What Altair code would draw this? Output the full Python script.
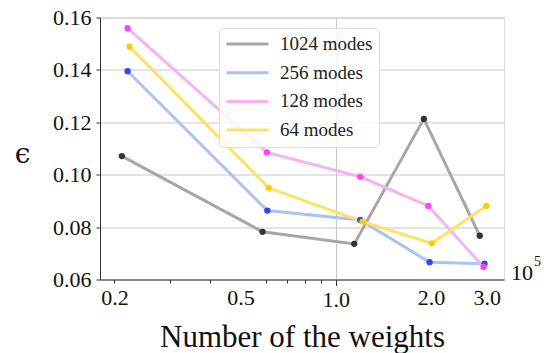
import altair as alt
import pandas as pd

# Error versus number of weights (in units of 1e5) for four mode counts
series = ["1024 modes", "256 modes", "128 modes", "64 modes"]

weights_1024 = [0.211, 0.587, 1.144, 1.898, 2.85]
error_1024 = [0.1071, 0.0782, 0.0736, 0.1213, 0.0767]

weights_256 = [0.220, 0.608, 1.195, 1.979, 2.95]
error_256 = [0.1395, 0.0863, 0.0827, 0.0666, 0.0660]

weights_128 = [0.220, 0.606, 1.195, 1.960, 2.93]
error_128 = [0.1559, 0.1085, 0.0992, 0.0881, 0.0648]

weights_64 = [0.223, 0.614, 1.215, 2.010, 2.99]
error_64 = [0.1489, 0.0950, 0.0821, 0.0738, 0.0881]

x_labels = [0.2, 0.5, 1.0, 2.0, 3.0]
x_ticks = [0.2, 0.3, 0.4, 0.5, 0.6, 0.7, 0.8, 0.9, 1.0, 2.0, 3.0]
y_ticks = [0.06, 0.08, 0.10, 0.12, 0.14, 0.16]

line_colors = ["#a6a6a6", "#a9c3f2", "#f5b2f5", "#ffe066"]
point_colors = ["#333333", "#3344ff", "#ff40ff", "#ffcc00"]

rows = []
for name, ws, es in zip(
    series,
    [weights_1024, weights_256, weights_128, weights_64],
    [error_1024, error_256, error_128, error_64],
):
    for w, e in zip(ws, es):
        rows.append({"series": name, "weights": w, "error": e})
df = pd.DataFrame(rows)

serif = "Liberation Serif"

label_list = "[" + ",".join(str(v) for v in x_labels) + "]"
x_axis = alt.Axis(
    values=x_ticks,
    labelExpr=f"indexof({label_list}, datum.value) >= 0 ? format(datum.value, '.1f') : ''",
    labelOverlap=False,
    labelFont=serif,
    labelFontSize=22,
    labelColor="#111111",
    labelPadding=4,
    tickColor="#333333",
    tickSize={"condition": {"test": "datum.value == 1", "value": 6}, "value": 3.5},
    tickOpacity={
        "condition": {"test": "datum.value == 0.5 || datum.value >= 2", "value": 0},
        "value": 1,
    },
    grid=True,
    gridColor="#c8c8c8",
    gridOpacity={"condition": {"test": "datum.value == 1", "value": 1}, "value": 0},
    domainColor="#333333",
    title="Number of the weights",
    titleFont=serif,
    titleFontSize=31,
    titleFontWeight="normal",
    titleColor="#111111",
    titleBaseline="alphabetic",
    titleY=67,
)

y_axis = alt.Axis(
    values=y_ticks,
    format=".2f",
    labelFont=serif,
    labelFontSize=22,
    labelColor="#111111",
    labelPadding=5,
    tickSize=4,
    tickColor="#333333",
    grid=True,
    gridColor="#c8c8c8",
    domainColor="#333333",
    title="ϵ",
    titleAngle=0,
    titleFont="DejaVu Serif",
    titleFontSize=28,
    titleFontWeight="normal",
    titleColor="#111111",
    titleAlign="center",
    titleBaseline="alphabetic",
    titleX=-78,
    titleY=145,
)

x_enc = alt.X(
    "weights:Q",
    scale=alt.Scale(type="log", domain=[0.18, 3.4], nice=False, zero=False),
    axis=x_axis,
)
y_enc = alt.Y(
    "error:Q",
    scale=alt.Scale(domain=[0.06, 0.16], nice=False, zero=False),
    axis=y_axis,
)

base = alt.Chart(df)

lines = base.mark_line(strokeWidth=3).encode(
    x=x_enc,
    y=y_enc,
    color=alt.Color(
        "series:N",
        scale=alt.Scale(domain=series, range=line_colors),
        sort=series,
        legend=alt.Legend(
            orient="none",
            legendX=119,
            legendY=10.5,
            title=None,
            symbolType="stroke",
            symbolSize=1764,
            symbolStrokeWidth=3,
            clipHeight=20,
            rowPadding=8.7,
            labelOffset=10,
            labelFont=serif,
            labelFontSize=19,
            labelFontWeight="normal",
            labelColor="#222222",
            padding=6,
            strokeColor="#dddddd",
            fillColor="rgba(255,255,255,0.8)",
            cornerRadius=4,
        ),
    ),
    order=alt.Order("weights:Q"),
)

points = base.mark_circle(size=40, opacity=1).encode(
    x=x_enc,
    y=y_enc,
    color=alt.Color(
        "series:N",
        scale=alt.Scale(domain=series, range=point_colors),
        legend=None,
    ),
)

# Offset factor shown beside the x axis
offset_base = alt.Chart(pd.DataFrame({"t": ["10"]})).mark_text(
    font=serif, fontSize=22, align="left", baseline="alphabetic", color="#111111"
).encode(x=alt.value(411), y=alt.value(262.5), text="t:N")
offset_exp = alt.Chart(pd.DataFrame({"t": ["5"]})).mark_text(
    font=serif, fontSize=14, align="left", baseline="alphabetic", color="#111111"
).encode(x=alt.value(434), y=alt.value(248), text="t:N")

chart = (
    alt.layer(lines, points, offset_base, offset_exp)
    .resolve_scale(color="independent")
    .properties(
        width=404,
        height=262,
        autosize=alt.AutoSizeParams(type="none"),
        padding={"left": 100, "top": 17.5, "right": 40, "bottom": 73.5},
    )
    .configure_view(stroke="#333333", strokeWidth=1.2)
    .configure(background="white")
)

chart.save("out.html", embed_options={"renderer": "svg", "actions": False})
